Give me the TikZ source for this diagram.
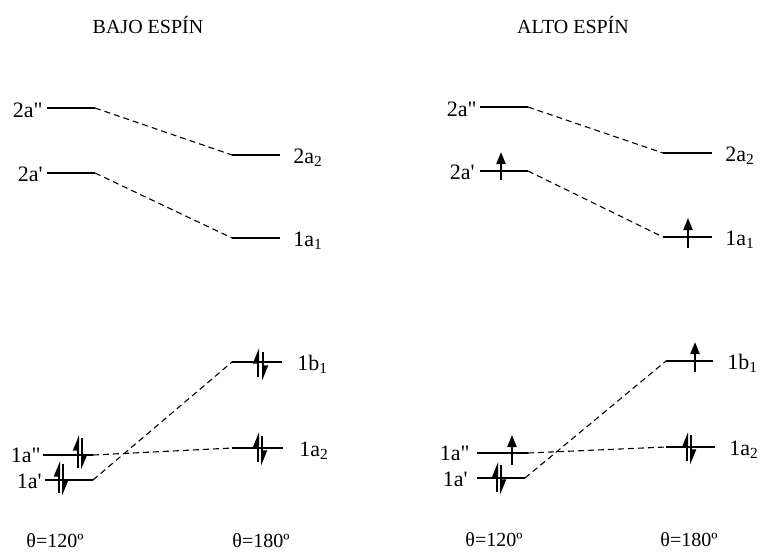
\documentclass[tikz,border=0pt]{standalone}
\usepackage{fontspec}
\setmainfont{Liberation Serif}[Ligatures=TeXOff]
\usetikzlibrary{arrows.meta}
\tikzset{
  levelLine/.style={line width=0.8pt, draw=black},
  mixLine/.style={line width=0.55pt, draw=black, dash pattern=on 3pt off 2pt},
  spinUp/.style={line width=1pt, -{Triangle[length=6pt, width=4.5pt]}},
  spinPair/.style={line width=1pt, -{Triangle[harpoon, length=6.5pt, width=5pt]}},
  moLabel/.style={font=\fontsize{11}{13}\selectfont, inner sep=0pt},
  headLabel/.style={font=\fontsize{10}{12}\selectfont, inner sep=0pt}
}

\begin{document}
\begin{tikzpicture}[x=0.5pt, y=-0.5pt]
  \useasboundingbox (0,0) rectangle (760,553);

  % bajo espin
  \node[headLabel] (bajo) at (148,25) {BAJO ESPÍN};
  \coordinate (b2app-l) at (47,108);  \coordinate (b2app-r) at (95,108);
  \coordinate (b2ap-l)  at (47,173);  \coordinate (b2ap-r)  at (95,173);
  \coordinate (b2a2-l)  at (232,155); \coordinate (b2a2-r)  at (280,155);
  \coordinate (b1a1-l)  at (232,238); \coordinate (b1a1-r)  at (280,238);
  \coordinate (b1b1-l)  at (232,362); \coordinate (b1b1-r)  at (282,362);
  \coordinate (b1a2-l)  at (232,448); \coordinate (b1a2-r)  at (283,448);
  \coordinate (b1app-l) at (43,455);  \coordinate (b1app-r) at (93,455);
  \coordinate (b1ap-l)  at (45,480);  \coordinate (b1ap-r)  at (93,480);

  \draw[levelLine] (b2app-l) -- (b2app-r);
  \draw[levelLine] (b2ap-l) -- (b2ap-r);
  \draw[levelLine] (b2a2-l) -- (b2a2-r);
  \draw[levelLine] (b1a1-l) -- (b1a1-r);
  \draw[levelLine] (b1b1-l) -- (b1b1-r);
  \draw[levelLine] (b1a2-l) -- (b1a2-r);
  \draw[levelLine] (b1app-l) -- (b1app-r);
  \draw[levelLine] (b1ap-l) -- (b1ap-r);

  \draw[mixLine] (b2app-r) -- (b2a2-l);
  \draw[mixLine] (b2ap-r) -- (b1a1-l);
  \draw[mixLine] (b1app-r) -- (b1a2-l);
  \draw[mixLine] (b1ap-r) -- (b1b1-l);

  \node[moLabel, anchor=base east] at ([shift={(-4,9)}]b2app-l) {2a"};
  \node[moLabel, anchor=base east] at ([shift={(-4,8)}]b2ap-l) {2a'};
  \node[moLabel, anchor=base east] at ([shift={(-2,7)}]b1app-l) {1a"};
  \node[moLabel, anchor=base east] at ([shift={(-3,8)}]b1ap-l) {1a'};
  \node[moLabel, anchor=base west] at ([shift={(13,8)}]b2a2-r) {2a\textsubscript{2}};
  \node[moLabel, anchor=base west] at ([shift={(13,8)}]b1a1-r) {1a\textsubscript{1}};
  \node[moLabel, anchor=base west] at ([shift={(15,8)}]b1b1-r) {1b\textsubscript{1}};
  \node[moLabel, anchor=base west] at ([shift={(16,8)}]b1a2-r) {1a\textsubscript{2}};

  \draw[spinPair] (78,468) -- (78,435);
  \draw[spinPair] (82,438) -- (82,470);
  \draw[spinPair] (59,493) -- (59,461);
  \draw[spinPair] (63,464) -- (63,496);
  \draw[spinPair] (258,377) -- (258,348);
  \draw[spinPair] (263,352) -- (263,381);
  \draw[spinPair] (258,462) -- (258,432);
  \draw[spinPair] (262,436) -- (262,466);

  \node[headLabel] (b120) at (55,541) {θ=120º};
  \node[headLabel] (b180) at (261,541) {θ=180º};

  % alto espin
  \node[headLabel] (alto) at (573,25) {ALTO ESPÍN};
  \coordinate (a2app-l) at (480,107); \coordinate (a2app-r) at (528,107);
  \coordinate (a2ap-l)  at (480,171); \coordinate (a2ap-r)  at (528,171);
  \coordinate (a2a2-l)  at (663,153); \coordinate (a2a2-r)  at (712,153);
  \coordinate (a1a1-l)  at (663,237); \coordinate (a1a1-r)  at (712,237);
  \coordinate (a1b1-l)  at (666,361); \coordinate (a1b1-r)  at (713,361);
  \coordinate (a1a2-l)  at (666,447); \coordinate (a1a2-r)  at (715,447);
  \coordinate (a1app-l) at (477,453); \coordinate (a1app-r) at (528,453);
  \coordinate (a1ap-l)  at (477,478); \coordinate (a1ap-r)  at (525,478);

  \draw[levelLine] (a2app-l) -- (a2app-r);
  \draw[levelLine] (a2ap-l) -- (a2ap-r);
  \draw[levelLine] (a2a2-l) -- (a2a2-r);
  \draw[levelLine] (a1a1-l) -- (a1a1-r);
  \draw[levelLine] (a1b1-l) -- (a1b1-r);
  \draw[levelLine] (a1a2-l) -- (a1a2-r);
  \draw[levelLine] (a1app-l) -- (a1app-r);
  \draw[levelLine] (a1ap-l) -- (a1ap-r);

  \draw[mixLine] (a2app-r) -- (a2a2-l);
  \draw[mixLine] (a2ap-r) -- (a1a1-l);
  \draw[mixLine] (a1app-r) -- (a1a2-l);
  \draw[mixLine] (a1ap-r) -- (a1b1-l);

  \node[moLabel, anchor=base east] at ([shift={(-3,9)}]a2app-l) {2a"};
  \node[moLabel, anchor=base east] at ([shift={(-5,8)}]a2ap-l) {2a'};
  \node[moLabel, anchor=base east] at ([shift={(-7,7)}]a1app-l) {1a"};
  \node[moLabel, anchor=base east] at ([shift={(-9,8)}]a1ap-l) {1a'};
  \node[moLabel, anchor=base west] at ([shift={(13,8)}]a2a2-r) {2a\textsubscript{2}};
  \node[moLabel, anchor=base west] at ([shift={(13,8)}]a1a1-r) {1a\textsubscript{1}};
  \node[moLabel, anchor=base west] at ([shift={(14,8)}]a1b1-r) {1b\textsubscript{1}};
  \node[moLabel, anchor=base west] at ([shift={(14,8)}]a1a2-r) {1a\textsubscript{2}};

  \draw[spinUp] (501,180) -- (501,152);
  \draw[spinUp] (688,248) -- (688,218);
  \draw[spinUp] (695,372) -- (695,342);
  \draw[spinUp] (512,465) -- (512,435);
  \draw[spinPair] (497,492) -- (497,462);
  \draw[spinPair] (501,465) -- (501,495);
  \draw[spinPair] (687,461) -- (687,432);
  \draw[spinPair] (691,435) -- (691,465);

  \node[headLabel] (a120) at (494,540) {θ=120º};
  \node[headLabel] (a180) at (689,540) {θ=180º};
\end{tikzpicture}
\end{document}
